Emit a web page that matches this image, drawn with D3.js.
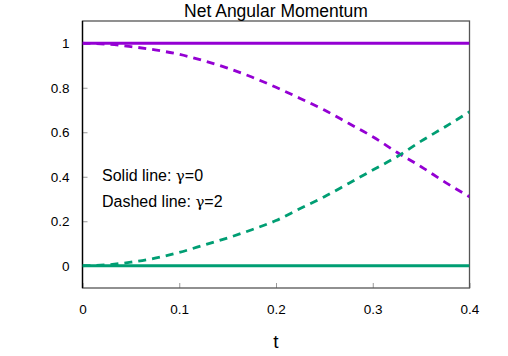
<!DOCTYPE html>
<html><head><meta charset="utf-8">
<script src="https://cdn.jsdelivr.net/npm/d3@7"></script>
<style>body{margin:0;background:#fff;} svg{display:block;font-family:"Liberation Sans",Arial,sans-serif;}</style>
</head><body>
<script>
const tVals = [0,0.025,0.05,0.075,0.1,0.125,0.15,0.175,0.2,0.225,0.25,0.275,0.3,0.325,0.35,0.375,0.4];
const purpleDashed = [1,0.996,0.985,0.97,0.95,0.922,0.888,0.848,0.802,0.752,0.70,0.64,0.58,0.51,0.445,0.375,0.31];
const greenDashed = [0,0.004,0.016,0.034,0.06,0.092,0.125,0.162,0.203,0.257,0.31,0.37,0.43,0.49,0.56,0.625,0.692];
const purpleSolid = [1,1,1,1,1,1,1,1,1,1,1,1,1,1,1,1,1];
const greenSolid = [0,0,0,0,0,0,0,0,0,0,0,0,0,0,0,0,0];
const xTicks = [0,0.1,0.2,0.3,0.4];
const xTickLabels = ["0","0.1","0.2","0.3","0.4"];
const yTicks = [0,0.2,0.4,0.6,0.8,1];
const yTickLabels = ["0","0.2","0.4","0.6","0.8","1"];
const title = "Net Angular Momentum";
const xLabel = "t";
const legendPrefix = ["Solid line: ","Dashed line: "];
const legendGamma = ["=0","=2"];

const W=508,H=356;
const L=82.5,R=469.5,T=21,B=288;
const svg=d3.select("body").append("svg").attr("width",W).attr("height",H);
const x=d3.scaleLinear().domain([0,0.4]).range([L,R]);
const y=d3.scaleLinear().domain([-0.1,1.1]).range([B,T]);

svg.append("defs").append("clipPath").attr("id","clip").append("rect")
  .attr("x",L).attr("y",T).attr("width",R-L).attr("height",B-T);

const gx=svg.append("g").attr("transform",`translate(0,${B})`)
  .call(d3.axisBottom(x).tickValues(xTicks).tickFormat((d,i)=>xTickLabels[i]).tickSizeInner(-5).tickSizeOuter(0).tickPadding(16));
const gy=svg.append("g").attr("transform",`translate(${L},0)`)
  .call(d3.axisLeft(y).tickValues(yTicks).tickFormat((d,i)=>yTickLabels[i]).tickSizeInner(-5).tickSizeOuter(0).tickPadding(13));
[gx,gy].forEach(g=>{
  g.attr("font-size",null).attr("font-family",null);
  g.select(".domain").remove();
  g.selectAll(".tick line").attr("stroke","#999").attr("stroke-width",1);
  g.selectAll(".tick text").attr("fill","#000").attr("font-size","13.5px").attr("font-family","'Liberation Sans',Arial,sans-serif");
});

svg.append("rect").attr("x",L).attr("y",T).attr("width",R-L).attr("height",B-T)
  .attr("fill","none").attr("stroke","#555").attr("stroke-width",1.3);
svg.append("line").attr("x1",L).attr("x2",L).attr("y1",T).attr("y2",B).attr("stroke","#000").attr("stroke-width",1.3);

const line=d3.line().x((d,i)=>x(tVals[i])).y(d=>y(d)).curve(d3.curveMonotoneX);
const g=svg.append("g").attr("clip-path","url(#clip)");
const series=[
  {v:purpleSolid,c:"#9400D3",dash:null},
  {v:greenSolid,c:"#009E73",dash:null},
  {v:purpleDashed,c:"#9400D3",dash:"8,6"},
  {v:greenDashed,c:"#009E73",dash:"8,6"}
];
series.forEach(s=>{
  g.append("path").datum(s.v).attr("d",line).attr("fill","none")
   .attr("stroke",s.c).attr("stroke-width",2.8).attr("stroke-dasharray",s.dash);
});

svg.append("text").attr("x",(L+R)/2).attr("y",17).attr("text-anchor","middle")
  .attr("font-size","17.5px").text(title);
svg.append("text").attr("x",(L+R)/2).attr("y",348).attr("text-anchor","middle")
  .attr("font-size","19px").text(xLabel);
legendPrefix.forEach((t,i)=>{
  const tx=svg.append("text").attr("x",102).attr("y",181+i*26).attr("font-size","16px");
  tx.append("tspan").text(t);
  tx.append("tspan").attr("font-family","'DejaVu Serif',serif").attr("font-size","15px").text("γ");
  tx.append("tspan").text(legendGamma[i]);
});
</script>
</body></html>
